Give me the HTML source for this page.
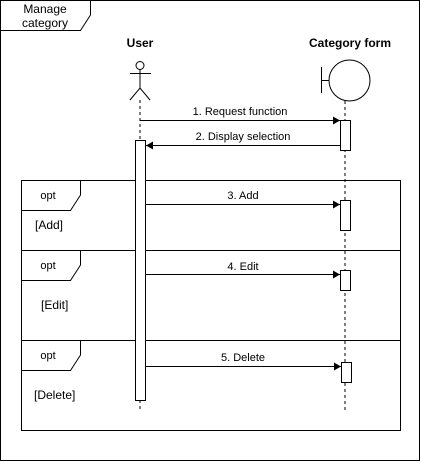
<!DOCTYPE html>
<html><head><style>body{margin:0;background:#fff}svg{display:block}text{font-family:"Liberation Sans",sans-serif;font-size:11px;fill:#000}</style></head><body>
<svg width="421" height="462" viewBox="0 0 421 462" xmlns="http://www.w3.org/2000/svg">
<defs><marker id="a" markerWidth="8" markerHeight="8" refX="7" refY="4" orient="auto" markerUnits="userSpaceOnUse"><path d="M0,0 L7,4 L0,8 Z" fill="#000"/></marker></defs>
<g fill="none" stroke="#000" stroke-width="1">
<rect x="0.5" y="0.5" width="419" height="460"/>
<path d="M0.5,30.5 H80.5 L90.5,15 V0.5"/>
<line x1="140" y1="100" x2="140" y2="410" stroke-dasharray="3,3"/>
<line x1="345" y1="101" x2="345" y2="410" stroke-dasharray="3,3"/>
<circle cx="140" cy="65.5" r="4"/>
<line x1="140" y1="70" x2="140" y2="88"/>
<line x1="130" y1="73.5" x2="151" y2="73.5"/>
<path d="M130,100 L140,88 L150,100"/>
<circle cx="349.5" cy="80.5" r="20.5"/>
<line x1="321.5" y1="67" x2="321.5" y2="93"/>
<line x1="321.5" y1="80.5" x2="329" y2="80.5"/>
<rect x="21.5" y="180.5" width="379" height="250"/>
<line x1="21.5" y1="250.5" x2="400.5" y2="250.5"/>
<line x1="21.5" y1="340.5" x2="400.5" y2="340.5"/>
<path d="M21.5,210.5 H70.5 L80.5,195 V180.5"/>
<path d="M21.5,280.5 H70.5 L80.5,265 V250.5"/>
<path d="M21.5,370.5 H70.5 L80.5,355 V340.5"/>
<line x1="140" y1="120.5" x2="340" y2="120.5" marker-end="url(#a)"/>
<line x1="340" y1="145.5" x2="146" y2="145.5" marker-end="url(#a)"/>
<line x1="146" y1="204.5" x2="340" y2="204.5" marker-end="url(#a)"/>
<line x1="146" y1="274.5" x2="340" y2="274.5" marker-end="url(#a)"/>
<line x1="146" y1="366.5" x2="341" y2="366.5" marker-end="url(#a)"/>
</g>
<g fill="#fff" stroke="#000">
<rect x="340.5" y="120.5" width="10" height="30"/>
<rect x="135.5" y="140.5" width="10" height="260"/>
<rect x="340.5" y="200.5" width="10" height="30"/>
<rect x="340.5" y="270.5" width="10" height="20"/>
<rect x="341.5" y="362.5" width="10" height="20"/>
</g>
<text x="45" y="13" text-anchor="middle" font-size="12" style="font-size:12px">Manage</text>
<text x="45" y="27" text-anchor="middle" style="font-size:12px">category</text>
<text x="140" y="47" text-anchor="middle" style="font-size:12px;font-weight:bold">User</text>
<text x="350" y="47" text-anchor="middle" style="font-size:12px;font-weight:bold">Category form</text>
<text x="240" y="115" text-anchor="middle">1. Request function</text>
<text x="243" y="140" text-anchor="middle">2. Display selection</text>
<text x="243" y="199" text-anchor="middle">3. Add</text>
<text x="243" y="270" text-anchor="middle">4. Edit</text>
<text x="243" y="361" text-anchor="middle">5. Delete</text>
<text x="48" y="199" text-anchor="middle">opt</text>
<text x="48" y="269" text-anchor="middle">opt</text>
<text x="48" y="359" text-anchor="middle">opt</text>
<text x="35" y="229" style="font-size:12px">[Add]</text>
<text x="41" y="309" style="font-size:12px">[Edit]</text>
<text x="34" y="399" style="font-size:12px">[Delete]</text>
</svg>
</body></html>
